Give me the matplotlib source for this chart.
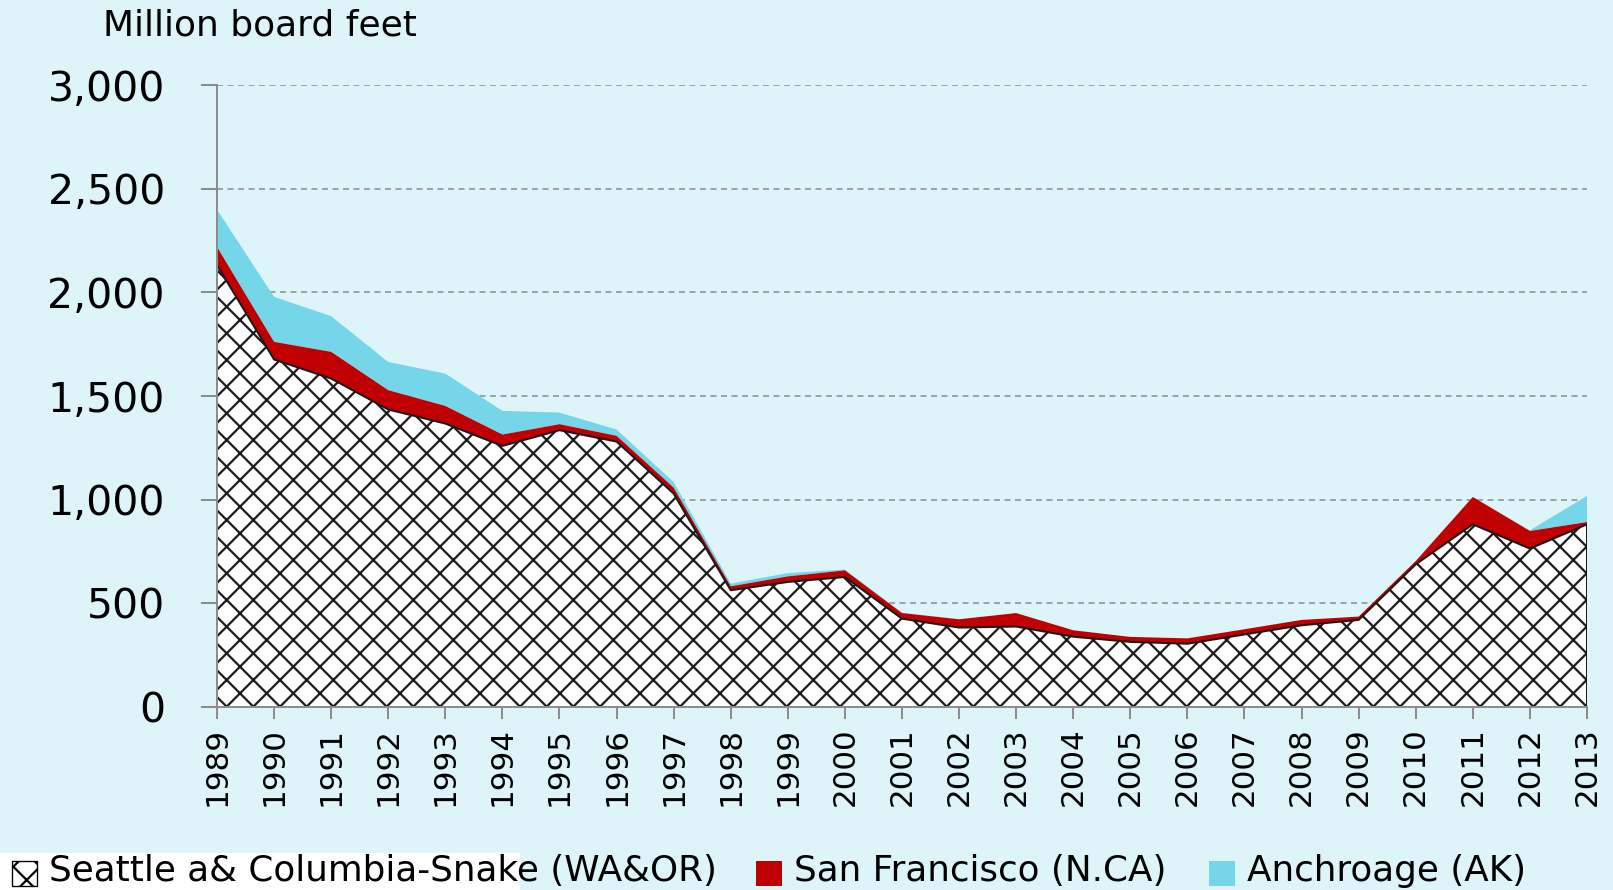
import matplotlib
matplotlib.use("Agg")
import matplotlib.pyplot as plt
from matplotlib.patches import Rectangle
import numpy as np

# -----------------------------
# Data (million board feet)
# -----------------------------
YEARS = list(range(1989, 2014))
SEATTLE = [2131, 1676, 1584, 1435, 1367, 1259, 1335, 1280, 1029, 563, 603, 627, 426,
           383, 388, 339, 314, 305, 350, 394, 420, 688, 881, 764, 881]
SAN_FRANCISCO = [88, 85, 129, 93, 85, 55, 29, 28, 29, 19, 27, 32, 27,
                 40, 65, 31, 24, 26, 25, 26, 16, 16, 132, 85, 11]
ANCHORAGE = [180, 217, 172, 136, 156, 114, 56, 30, 27, 13, 16, 4, 2,
             0, 0, 0, 0, 0, 0, 0, 0, 0, 0, 3, 126]
LABELS = ["Seattle a& Columbia-Snake (WA&OR)", "San Francisco (N.CA)", "Anchroage (AK)"]
Y_TICKS = [0, 500, 1000, 1500, 2000, 2500, 3000]

# -----------------------------
# Style
# -----------------------------
BG = "#ddf4f9"
RED = "#c00000"
CYAN = "#75d5e9"
GREY = "#8c8c8c"
W, H, DPI = 1613, 890, 80
PT = 72 / DPI  # points per pixel

plt.rcParams["font.family"] = ["DejaVu Sans"]
plt.rcParams["hatch.linewidth"] = 2.0

fig = plt.figure(figsize=(W / DPI, H / DPI), dpi=DPI, facecolor=BG)
ax = fig.add_axes([217 / W, 1 - 707 / H, (1587 - 217) / W, (707 - 85) / H])
ax.set_facecolor(BG)

x = np.array(YEARS)
s1 = np.array(SEATTLE)
s2 = s1 + np.array(SAN_FRANCISCO)
s3 = s2 + np.array(ANCHORAGE)

ax.fill_between(x, s2, s3, facecolor=CYAN, edgecolor="none", zorder=2)
ax.fill_between(x, s1, s2, facecolor=RED, edgecolor="none", zorder=3)
ax.fill_between(x, 0, s1, facecolor="white", edgecolor="#1a1a1a", hatch="x",
                linewidth=2 * PT, zorder=4)

ax.set_xlim(1989, 2013)
ax.set_ylim(0, 3000)
ax.set_xticks(YEARS)
ax.set_xticklabels([str(y) for y in YEARS], rotation=90, fontsize=31 * PT)
ax.set_yticks(Y_TICKS)
ax.set_yticklabels([f"{v:,}" for v in Y_TICKS], fontsize=41 * PT)

ax.yaxis.grid(True, color="#8a8a8a", linestyle=(0, (4, 3)), linewidth=1.5 * PT, zorder=1)
ax.set_axisbelow(True)

for side in ["top", "right"]:
    ax.spines[side].set_visible(False)
for side in ["left", "bottom"]:
    ax.spines[side].set_color(GREY)
    ax.spines[side].set_linewidth(2 * PT)
    ax.spines[side].set_zorder(5)

ax.tick_params(axis="y", length=16 * PT, width=2 * PT, color=GREY, pad=36 * PT)
ax.tick_params(axis="x", length=12 * PT, width=2 * PT, color=GREY, pad=8 * PT)

fig.text(103 / W, 1 - 25 / H, "Million board feet", fontsize=36 * PT, va="center", ha="left")

# -----------------------------
# Legend (bottom row)
# -----------------------------
fig.add_artist(Rectangle((0, 0), 520 / W, (890 - 853) / H, transform=fig.transFigure,
                         facecolor="white", edgecolor="none", zorder=0))
legend_y = 1 - 886 / H
box_h = 25 / H
fig.add_artist(Rectangle((12 / W, legend_y), 25 / W, box_h, transform=fig.transFigure,
                         facecolor="white", edgecolor="black", hatch="x", linewidth=1.2))
fig.add_artist(Rectangle((756 / W, legend_y), 26 / W, box_h, transform=fig.transFigure,
                         facecolor=RED, edgecolor="none"))
fig.add_artist(Rectangle((1209 / W, legend_y), 26 / W, box_h, transform=fig.transFigure,
                         facecolor=CYAN, edgecolor="none"))
for x0, label in zip([49, 794, 1247], LABELS):
    fig.text(x0 / W, 1 - 871 / H, label, fontsize=35.7 * PT, va="center", ha="left")

fig.savefig("out.png", dpi=DPI, facecolor=BG)
